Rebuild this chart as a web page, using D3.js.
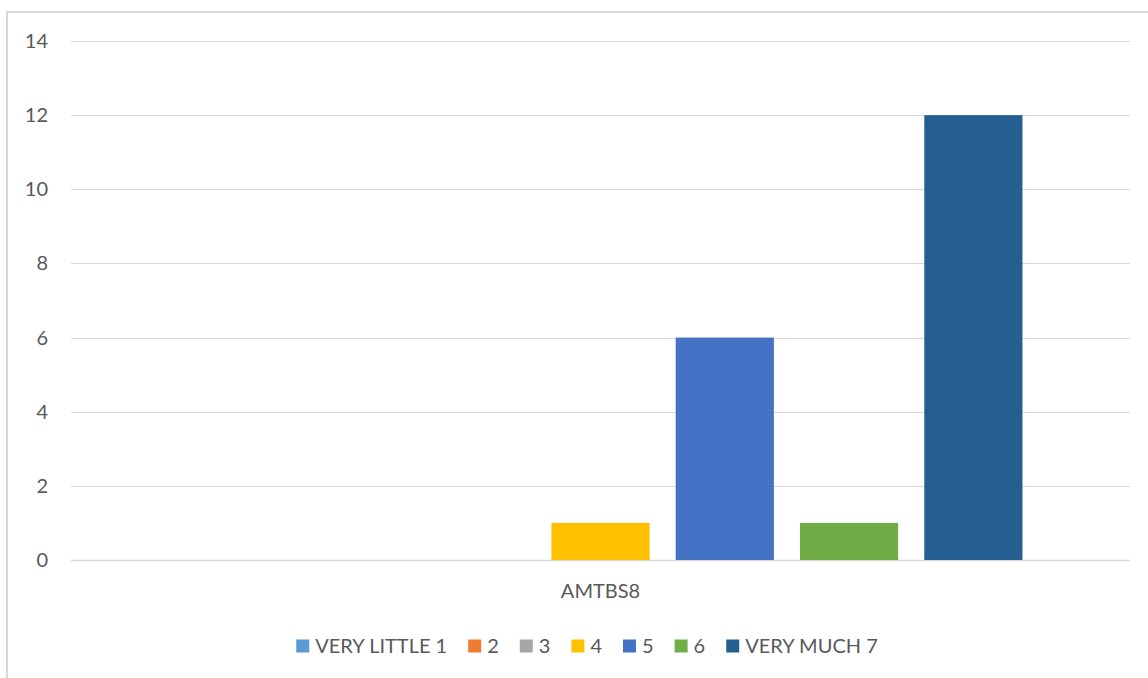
<!DOCTYPE html>
<html><head><meta charset="utf-8">
<script src="https://cdn.jsdelivr.net/npm/d3@7"></script>
<style>body{margin:0;background:#fff}svg{display:block}</style>
</head><body>
<svg id="c" width="1148" height="678"></svg>
<script>
const categories = ["AMTBS8"];
const seriesNames = ["VERY LITTLE 1","2","3","4","5","6","VERY MUCH 7"];
const seriesValues = [0,0,0,1,6,1,12];
const seriesColors = ["#5B9BD5","#ED7D31","#A5A5A5","#FFC000","#4472C4","#70AD47","#255E91"];
const yTicks = [0,2,4,6,8,10,12,14];

(function(){
const svg = d3.select("#c");
const font = "Lato, 'Open Sans', sans-serif";
const txt = "#595959";
const fs = 20;

svg.append("rect").attr("x",7).attr("y",12).attr("width",1160).attr("height",700)
  .attr("fill","none").attr("stroke","#D9D9D9").attr("stroke-width",2);

const pLeft = 71, pRight = 1130, pTop = 41, pBottom = 560;
const y = d3.scaleLinear().domain([0,14]).range([pBottom, pTop]);
const x0 = d3.scaleBand().domain(categories).range([pLeft,pRight]).paddingInner(0).paddingOuter(0.1086);
const x1 = d3.scaleBand().domain(seriesNames).range([0,x0.bandwidth()]).paddingInner(0.21).paddingOuter(0.105);

svg.append("g").selectAll("line").data(yTicks).join("line")
  .attr("x1",pLeft).attr("x2",pRight)
  .attr("y1",d=>Math.round(y(d))+0.5).attr("y2",d=>Math.round(y(d))+0.5)
  .attr("stroke","#D9D9D9").attr("stroke-width",d=>d===0?1.5:1);

svg.append("g").selectAll("text").data(yTicks).join("text")
  .attr("x",48).attr("y",d=>y(d)).attr("dy","0.35em").attr("text-anchor","end")
  .attr("font-family",font).attr("font-size",fs).attr("fill",txt).text(d=>d);

const data = seriesNames.map((s,i)=>({s, v: seriesValues[i], c: seriesColors[i]}));
const g = svg.append("g").attr("transform",`translate(${x0(categories[0])},0)`);
g.selectAll("rect").data(data.filter(d=>d.v>0)).join("rect")
  .attr("x",d=>x1(d.s)).attr("width",x1.bandwidth())
  .attr("y",d=>y(d.v)).attr("height",d=>y(0)-y(d.v)).attr("fill",d=>d.c);

svg.append("text").attr("x",x0(categories[0])+x0.bandwidth()/2).attr("y",598)
  .attr("text-anchor","middle").attr("font-family",font).attr("font-size",fs).attr("fill",txt).text(categories[0]);

const lg = svg.append("g");
let cx = 0;
const sq = 13, gapT = 6, gapI = 21;
data.forEach((d,i)=>{
  const it = lg.append("g");
  it.append("rect").attr("x",0).attr("y",-sq/2).attr("width",sq).attr("height",sq).attr("fill",d.c);
  const t = it.append("text").attr("x",sq+gapT).attr("y",0).attr("dy","0.35em")
    .attr("font-family",font).attr("font-size",fs).attr("fill",txt).text(d.s);
  const w = sq + gapT + t.node().getComputedTextLength();
  it.attr("transform",`translate(${cx},0)`);
  cx += w + gapI;
});
const totalW = cx - gapI;
lg.attr("transform",`translate(${587 - totalW/2},646)`);
})();
</script>
</body></html>
